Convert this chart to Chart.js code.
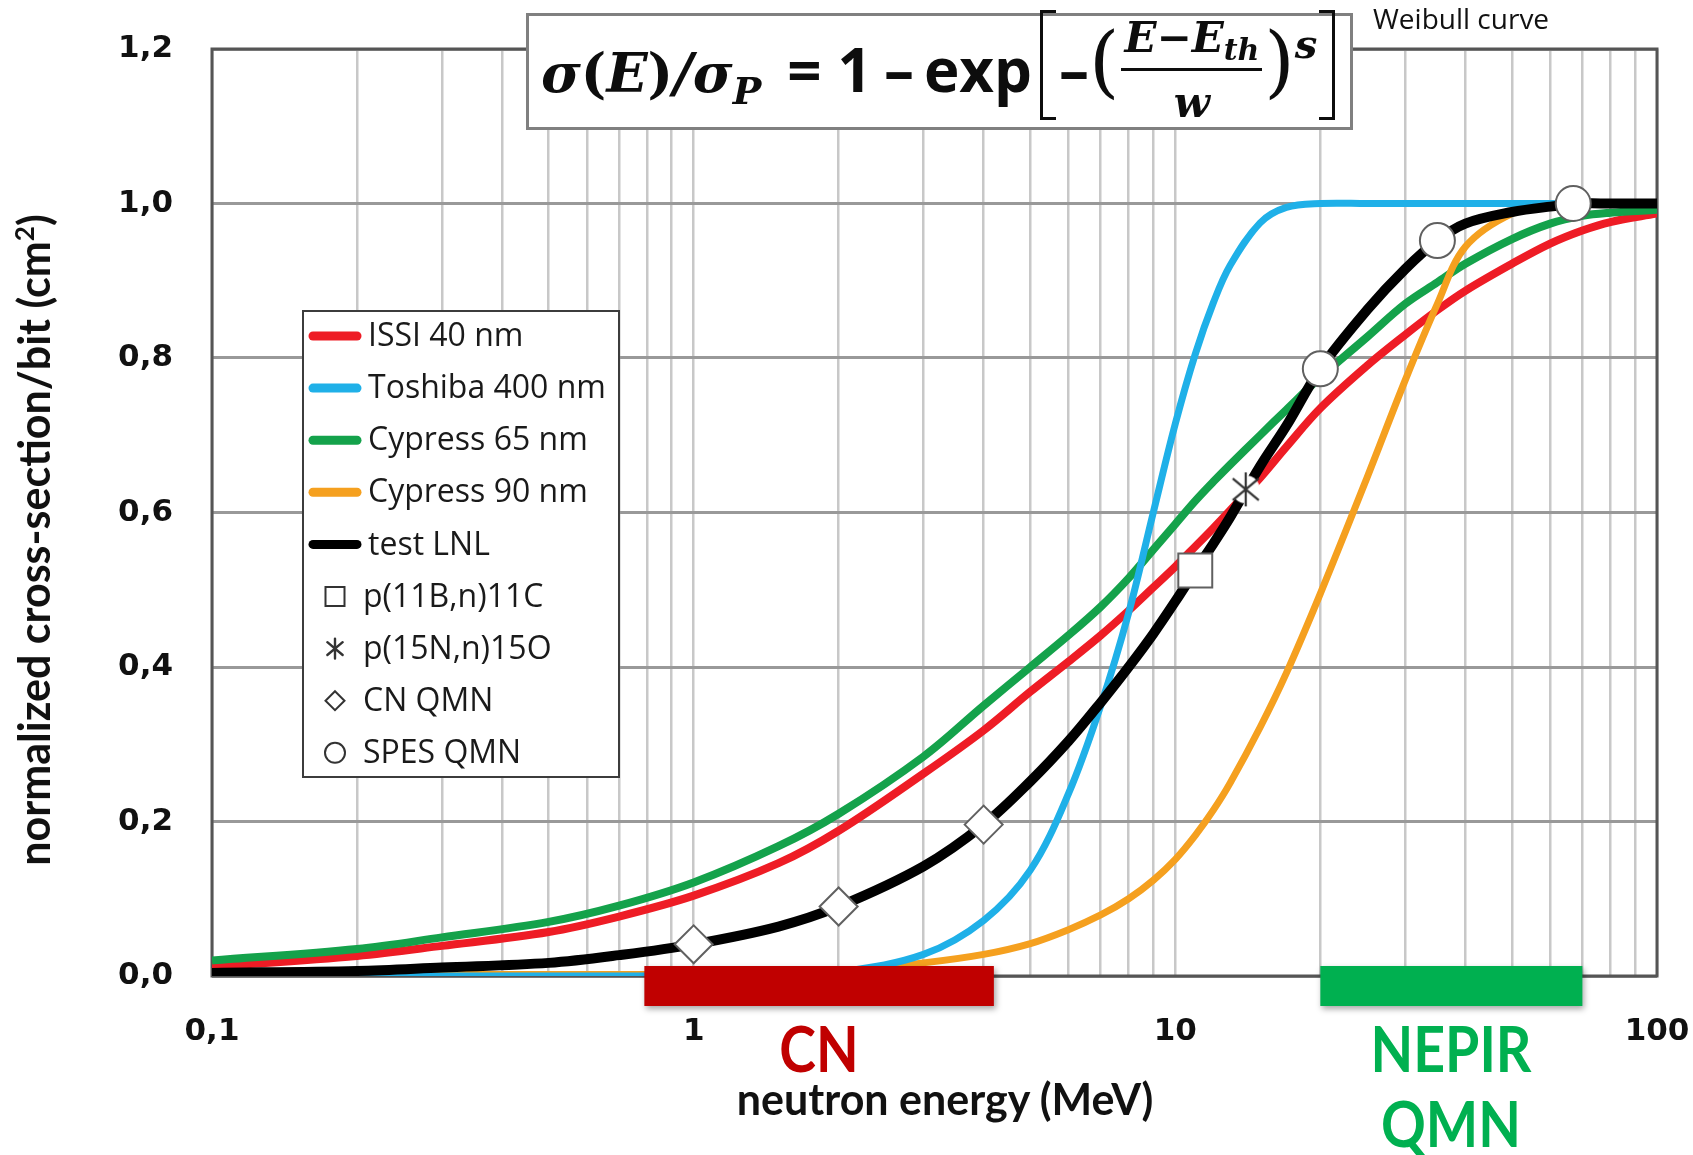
<!DOCTYPE html>
<html>
<head>
<meta charset="utf-8">
<title>Weibull curves - normalized cross-section</title>
<script src="https://cdn.jsdelivr.net/npm/chart.js@4.4.1/dist/chart.umd.min.js"></script>
<style>
  html, body { margin: 0; padding: 0; background: #fff; }
  #wrap { position: relative; width: 1693px; height: 1155px; overflow: hidden; }
  #chart { position: absolute; left: 0; top: 0; }

  #formula { position: absolute; left: 526px; top: 13px; width: 821px; height: 111px;
             border: 3px solid #808080; background: #fff; }
  #fx { position: absolute; left: 12px; top: -10px; height: 111px; line-height: 111px;
        white-space: nowrap; font-family: 'DejaVu Serif'; font-size: 54px; color: #0d0d0d; }
  #fx > * { line-height: 0; }
  .sr { font-family: 'DejaVu Serif'; font-style: italic; font-weight: bold; font-size: 54px; }
  .pu { font-family: 'DejaVu Serif'; font-weight: bold; font-size: 54px; }
  .sub { font-size: 38px; vertical-align: -12px; }
  .sup { font-size: 40px; vertical-align: 34px; }
  .ss { font-family: 'Open Sans'; font-weight: bold; font-size: 60px; }
  .eq { margin: 0 16px 0 26px; }
  .dash { margin: 0 10px 0 12px; }
  .tp { font-family: 'DejaVu Serif'; font-weight: normal; font-size: 78px; vertical-align: 4px; }
  .frac { display: inline-block; vertical-align: -25px; text-align: center; margin: 0 2px; }
  .num, .den { display: block; line-height: 46px; }
  .num { margin-bottom: 0; padding: 0 3px; position: relative; top: 5px; }
  .bar { display: block; height: 3px; background: #0d0d0d; }
  .den { margin-top: 5px; }
  .fr { font-family: 'DejaVu Serif'; font-style: italic; font-weight: bold; font-size: 42px; }
  .fm { font-family: 'DejaVu Serif'; font-weight: bold; font-size: 42px; }
  .th { font-size: 30px; vertical-align: -8px; }
  .brk { display: inline-block; width: 13px; height: 104px; border: 3.5px solid #0d0d0d;
         vertical-align: -28px; }
  .bl { border-right: none; margin: 0 3px 0 8px; }
  .br { border-left: none; margin-left: 2px; }

  #weibull { position: absolute; left: 1373px; top: -2px; font: 28px 'Open Sans'; color: #111;
             line-height: 40px; }
  #ytitle { position: absolute; left: -324px; top: 512px; width: 720px; height: 56px;
            line-height: 56px; text-align: center; transform: rotate(-90deg);
            font: bold 43px Lato; color: #111; }
  #ytitle sup { font-size: 26px; line-height: 0; vertical-align: 16px; }
  #xtitle { position: absolute; left: 645px; top: 1073px; width: 600px; line-height: 56px;
            text-align: center; font: bold 43px Lato; color: #111; }
  .beamLabel { position: absolute; width: 300px; text-align: center; line-height: 73px;
               font: bold 63px Lato; transform: scaleX(0.88); }
</style>
</head>
<body>
<div id="wrap">
  <canvas id="chart" width="1693" height="1155" style="width:1693px;height:1155px"></canvas>
  <div id="formula"><div id="fx"><span class="sr">σ</span><span class="pu">(</span><span class="sr">E</span><span class="pu">)</span><span class="sr">/</span><span class="sr">σ</span><span class="sr sub">P</span><span class="ss eq">=</span><span class="ss">1</span><span class="ss dash">–</span><span class="ss">exp</span><span class="brk bl"></span><span class="ss">–</span><span class="tp">(</span><span class="frac"><span class="num"><span class="fr">E</span><span class="fm">−</span><span class="fr">E</span><span class="fr th">th</span></span><span class="bar"></span><span class="den"><span class="fr">w</span></span></span><span class="tp">)</span><span class="sr sup">s</span><span class="brk br"></span></div></div>
  <div id="weibull">Weibull curve</div>
  <div id="ytitle">normalized cross-section/bit (cm<sup>2</sup>)</div>
  <div id="xtitle">neutron energy (MeV)</div>
</div>

<script>
// neutron energies (MeV) where the fitted curves are sampled
const energies = [0.1, 0.2, 0.3, 0.5, 0.7, 1, 1.5, 2, 3, 4, 5, 6, 7, 8, 9, 10, 11, 12, 13, 15, 17, 20, 25, 30, 35, 40, 50, 60, 70, 80, 100];

// normalized cross-section of each Weibull fit
const issi40 = [0.012, 0.026, 0.039, 0.057, 0.077, 0.104, 0.146, 0.188, 0.262, 0.318, 0.368, 0.407, 0.441, 0.473, 0.503, 0.530, 0.556, 0.580, 0.603, 0.645, 0.685, 0.735, 0.790, 0.830, 0.862, 0.887, 0.922, 0.948, 0.965, 0.976, 0.987];
const toshiba400 = [0, 0, 0, 0, 0, 0, 0.001, 0.005, 0.028, 0.072, 0.137, 0.236, 0.350, 0.470, 0.600, 0.715, 0.805, 0.872, 0.920, 0.975, 0.995, 1, 1, 1, 1, 1, 1, 1, 1, 1, 1];
const cypress65 = [0.020, 0.035, 0.050, 0.070, 0.091, 0.121, 0.168, 0.210, 0.284, 0.350, 0.400, 0.441, 0.478, 0.515, 0.552, 0.585, 0.615, 0.640, 0.662, 0.700, 0.733, 0.775, 0.827, 0.870, 0.898, 0.922, 0.954, 0.974, 0.984, 0.988, 0.992];
const cypress90 = [0.002, 0.002, 0.002, 0.002, 0.002, 0.002, 0.003, 0.006, 0.017, 0.028, 0.042, 0.060, 0.079, 0.100, 0.124, 0.151, 0.182, 0.215, 0.250, 0.322, 0.392, 0.495, 0.645, 0.771, 0.870, 0.944, 0.987, 0.996, 0.999, 1, 1];
const testLNL = [0.004, 0.0065, 0.011, 0.017, 0.027, 0.041, 0.064, 0.090, 0.142, 0.196, 0.252, 0.304, 0.354, 0.400, 0.443, 0.485, 0.525, 0.560, 0.594, 0.660, 0.712, 0.786, 0.862, 0.915, 0.952, 0.974, 0.989, 0.996, 1, 1, 1];

// measured points
const b11E = [11], b11V = [0.525];
const n15E = [14], n15V = [0.63];
const cnQmnE = [1, 2, 4], cnQmnV = [0.041, 0.090, 0.196];
const spesE = [20, 35, 67], spesV = [0.786, 0.952, 1.0];

// beam energy ranges drawn under the axis
const beamLabels = [['CN'], ['NEPIR', 'QMN']];
const beamFrom = [0.79, 20];
const beamTo = [4.2, 70];
const beamColors = ['#c00000', '#00b050'];

// axes
const xTicks = [0.1, 0.2, 0.3, 0.4, 0.5, 0.6, 0.7, 0.8, 0.9, 1, 2, 3, 4, 5, 6, 7, 8, 9, 10, 20, 30, 40, 50, 60, 70, 80, 90, 100];
const xLabelled = [0.1, 1, 10, 100];
const xLabelText = ['0,1', '1', '10', '100'];
const yTicks = [0, 0.2, 0.4, 0.6, 0.8, 1.0, 1.2];
const yTickLabels = ['0,0', '0,2', '0,4', '0,6', '0,8', '1,0', '1,2'];

const toPoints = (xs, ys) => xs.map((x, i) => ({ x: x, y: ys[i] }));

function asterisk(g, cx, cy, r, lw) {
  g.save();
  g.strokeStyle = '#333';
  g.lineWidth = lw;
  g.beginPath();
  [90, 40, 140].forEach(a => {
    const t = a * Math.PI / 180;
    g.moveTo(cx - r * Math.cos(t), cy - r * Math.sin(t));
    g.lineTo(cx + r * Math.cos(t), cy + r * Math.sin(t));
  });
  g.stroke();
  g.restore();
}

// star marker for the chart: white patch behind the arms
function starCanvas(r) {
  const c = document.createElement('canvas');
  c.width = c.height = 2 * r + 4;
  const g = c.getContext('2d');
  const m = r + 2;
  g.fillStyle = '#fff';
  g.beginPath();
  g.arc(m, m, r - 3, 0, Math.PI * 2);
  g.fill();
  asterisk(g, m, m, r, 2.2);
  return c;
}

function curve(label, values, color, width, order) {
  return {
    label: label,
    data: toPoints(energies, values),
    borderColor: color,
    backgroundColor: color,
    borderWidth: width,
    pointRadius: 0,
    pointHoverRadius: 0,
    tension: 0.35,
    fill: false,
    order: order
  };
}

function marker(label, xs, ys, kind, style, radius) {
  return {
    label: label,
    data: toPoints(xs, ys),
    showLine: false,
    markerKind: kind,
    pointStyle: style,
    pointRadius: radius,
    pointHoverRadius: radius,
    pointBackgroundColor: '#fff',
    pointBorderColor: '#606060',
    pointBorderWidth: 2,
    order: 0
  };
}

// outer frame of the plot area
const framePlugin = {
  id: 'frame',
  beforeDatasetsDraw(chart) {
    const { ctx, chartArea: a } = chart;
    ctx.save();
    ctx.strokeStyle = '#555';
    ctx.lineWidth = 3;
    ctx.strokeRect(a.left, a.top, a.right - a.left, a.bottom - a.top);
    ctx.restore();
  }
};

// coloured beam bars below the x axis
const beamPlugin = {
  id: 'beams',
  afterDraw(chart) {
    const { ctx, chartArea: a } = chart;
    const x = chart.scales.x;
    ctx.save();
    beamFrom.forEach((from, i) => {
      const x0 = x.getPixelForValue(from);
      const x1 = x.getPixelForValue(beamTo[i]);
      ctx.shadowColor = 'rgba(0,0,0,0.35)';
      ctx.shadowBlur = 6;
      ctx.shadowOffsetX = 2;
      ctx.shadowOffsetY = 3;
      ctx.fillStyle = beamColors[i];
      ctx.fillRect(x0, a.bottom - 10, x1 - x0, 40);
    });
    ctx.restore();
  }
};

function legendMarker(ctx, kind, x, y) {
  ctx.save();
  ctx.strokeStyle = '#333';
  ctx.fillStyle = '#fff';
  ctx.lineWidth = 2;
  ctx.beginPath();
  if (kind === 'square') {
    ctx.rect(x - 9.5, y - 9.5, 19, 19);
  } else if (kind === 'diamond') {
    ctx.moveTo(x, y - 9.5); ctx.lineTo(x + 9.5, y); ctx.lineTo(x, y + 9.5); ctx.lineTo(x - 9.5, y); ctx.closePath();
  } else if (kind === 'circle') {
    ctx.arc(x, y, 10, 0, Math.PI * 2);
  }
  if (kind === 'star') {
    asterisk(ctx, x, y, 10, 2.4);
  } else {
    ctx.fill();
    ctx.stroke();
  }
  ctx.restore();
}

// boxed legend inside the plot
const legendPlugin = {
  id: 'boxLegend',
  afterDraw(chart) {
    const ctx = chart.ctx;
    const left = 303, top = 311, width = 316, height = 466, row = 52.1;
    ctx.save();
    ctx.fillStyle = '#fff';
    ctx.fillRect(left, top, width, height);
    ctx.strokeStyle = '#3c3c3c';
    ctx.lineWidth = 2;
    ctx.strokeRect(left, top, width, height);
    ctx.font = '32px "Open Sans"';
    ctx.textBaseline = 'middle';
    chart.data.datasets.forEach((ds, i) => {
      const y = top + 25 + i * row;
      if (ds.showLine === false) {
        legendMarker(ctx, ds.markerKind, 335, y);
        ctx.fillStyle = '#1a1a1a';
        ctx.fillText(ds.label, 363, y + 1);
      } else {
        ctx.strokeStyle = ds.borderColor;
        ctx.lineWidth = 9;
        ctx.lineCap = 'round';
        ctx.beginPath();
        ctx.moveTo(313, y);
        ctx.lineTo(357, y);
        ctx.stroke();
        ctx.fillStyle = '#1a1a1a';
        ctx.fillText(ds.label, 368, y + 1);
      }
    });
    ctx.restore();
  }
};

const tickFont = { family: 'DejaVu Sans', weight: 'bold', size: 31 };

const chart = new Chart(document.getElementById('chart'), {
  type: 'line',
  data: {
    datasets: [
      curve('ISSI 40 nm', issi40, '#ee1c25', 8, 5),
      curve('Toshiba 400 nm', toshiba400, '#1fb0e8', 7, 2),
      curve('Cypress 65 nm', cypress65, '#14a24b', 8, 4),
      curve('Cypress 90 nm', cypress90, '#f5a01f', 7, 3),
      curve('test LNL', testLNL, '#000000', 10, 1),
      marker('p(11B,n)11C', b11E, b11V, 'square', 'rect', 24),
      marker('p(15N,n)15O', n15E, n15V, 'star', starCanvas(17), 17),
      marker('CN QMN', cnQmnE, cnQmnV, 'diamond', 'rectRot', 19),
      marker('SPES QMN', spesE, spesV, 'circle', 'circle', 17.5)
    ]
  },
  options: {
    responsive: false,
    animation: false,
    devicePixelRatio: 1,
    events: [],
    layout: { padding: { top: 49, right: 36, left: 0, bottom: 0 } },
    plugins: {
      legend: { display: false },
      tooltip: { enabled: false }
    },
    scales: {
      x: {
        type: 'logarithmic',
        min: 0.1,
        max: 100,
        afterBuildTicks: axis => { axis.ticks = xTicks.map(v => ({ value: v })); },
        afterFit: axis => { axis.height = 179; axis.paddingLeft = 0; axis.paddingRight = 0; },
        border: { display: false },
        grid: { color: '#c8c8c8', lineWidth: 2.5, drawTicks: false },
        ticks: {
          autoSkip: false,
          maxRotation: 0,
          padding: 37,
          color: '#111',
          font: tickFont,
          callback: v => {
            const k = xLabelled.findIndex(t => Math.abs(t - v) < 1e-9);
            return k >= 0 ? xLabelText[k] : '';
          }
        }
      },
      y: {
        min: 0,
        max: 1.2,
        afterBuildTicks: axis => { axis.ticks = yTicks.map(v => ({ value: v })); },
        afterFit: axis => { axis.width = 212; axis.paddingTop = 0; axis.paddingBottom = 0; },
        border: { display: false },
        grid: { color: '#999999', lineWidth: 3, drawTicks: false },
        ticks: {
          padding: 39,
          color: '#111',
          font: tickFont,
          callback: (v, i) => yTickLabels[i]
        }
      }
    }
  },
  plugins: [framePlugin, beamPlugin, legendPlugin]
});

// beam names centred on their bars
const wrap = document.getElementById('wrap');
beamLabels.forEach((lines, i) => {
  const x = chart.scales.x;
  const mid = (x.getPixelForValue(beamFrom[i]) + x.getPixelForValue(beamTo[i])) / 2;
  const el = document.createElement('div');
  el.className = 'beamLabel';
  el.style.left = (mid - 150) + 'px';
  el.style.top = '1010px';
  el.style.color = beamColors[i];
  el.innerHTML = lines.join('<br>');
  wrap.appendChild(el);
});
</script>
</body>
</html>
